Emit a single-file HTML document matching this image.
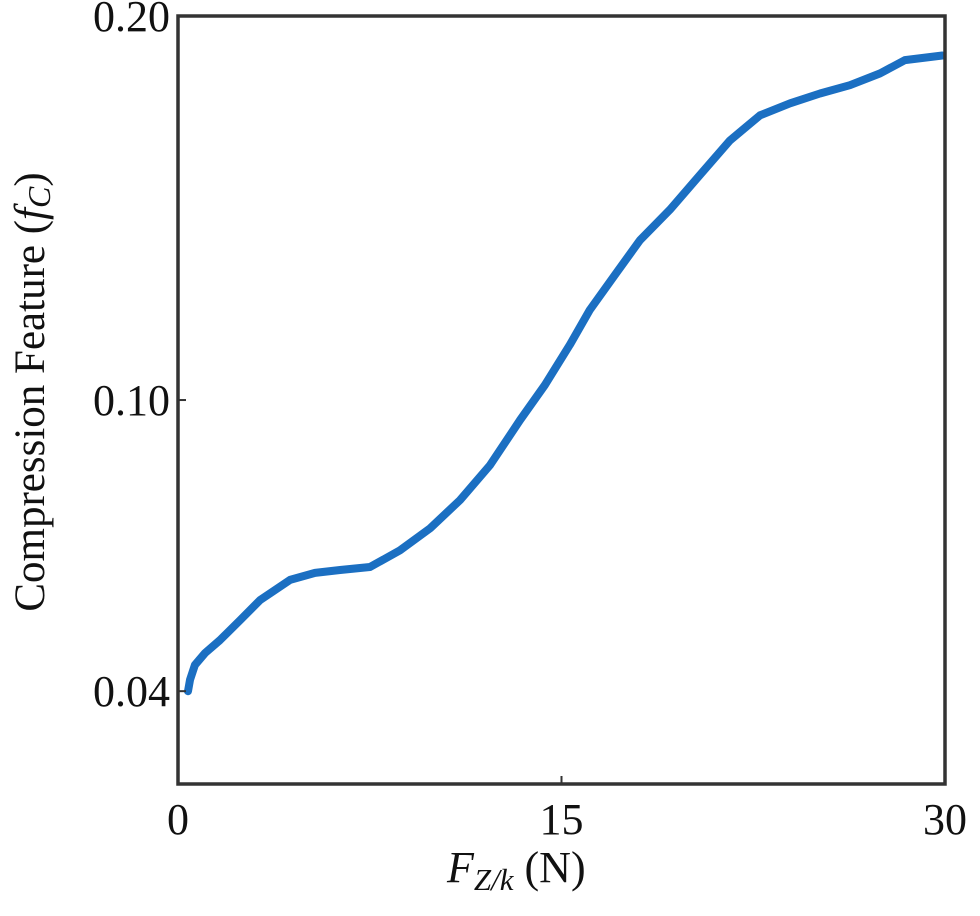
<!DOCTYPE html>
<html><head><meta charset="utf-8"><style>
body{margin:0;background:#fff;}
svg text{font-family:"Liberation Serif",serif;fill:#111;}
</style></head><body>
<svg id="chart" width="980" height="911" viewBox="0 0 980 911" xmlns="http://www.w3.org/2000/svg">
<g id="plot"></g>
<rect x="178" y="16" width="767" height="768" fill="none" stroke="#333" stroke-width="3.5"/>
<text transform="translate(44,392) rotate(-90)" text-anchor="middle" font-size="43">Compression Feature (<tspan font-style="italic">f</tspan><tspan font-style="italic" font-size="32" dy="6">C</tspan><tspan dy="-6">)</tspan></text>
<text x="447" y="882" font-size="44" font-style="italic">F<tspan font-size="31" dy="8">Z/k</tspan><tspan font-style="normal" dy="-8"> (N)</tspan></text>
</svg>
<script>
const xValues=[0.39,0.47,0.66,1.06,1.64,2.43,3.21,4.38,5.36,6.34,7.51,8.68,9.86,11.03,12.2,13.38,14.35,15.33,16.11,17.09,18.07,19.24,20.41,21.59,22.76,23.94,25.11,26.28,27.46,28.43,29.9];
const yValues=[0.0400,0.0420,0.0447,0.0469,0.0493,0.0531,0.0570,0.0610,0.0624,0.0630,0.0636,0.0670,0.0716,0.0776,0.0852,0.0954,0.1035,0.1131,0.1216,0.1303,0.1391,0.1470,0.1561,0.1654,0.1722,0.1755,0.1782,0.1805,0.1838,0.1875,0.1888];
const xTicks=[0,15,30];
const xTickLabels=["0","15","30"];
const yTicks=[0.04,0.10,0.20];
const yTickLabels=["0.04","0.10","0.20"];
const NS="http://www.w3.org/2000/svg";
const L=178,R=945,T=16,B=784;
function xs(v){return L+(v/30)*(R-L);}
function ys(v){return T+(Math.pow(0.2,0.7)-Math.pow(v,0.7))*3082;}
const g=document.getElementById('plot');
let d='';
xValues.forEach((x,i)=>{d+=(i?'L':'M')+xs(x).toFixed(1)+','+ys(yValues[i]).toFixed(1);});
const p=document.createElementNS(NS,'path');


p.setAttribute('d',d);p.setAttribute('fill','none');p.setAttribute('stroke','#1b6fc2');
p.setAttribute('stroke-width','8');p.setAttribute('stroke-linejoin','round');p.setAttribute('stroke-linecap','round');
g.appendChild(p);
xTicks.forEach((t,i)=>{
 const l=document.createElementNS(NS,'line');
 
 
 l.setAttribute('x1',xs(t));l.setAttribute('x2',xs(t));l.setAttribute('y1',B);l.setAttribute('y2',B-8);l.setAttribute('stroke','#333');l.setAttribute('stroke-width','2');
 g.appendChild(l);
 const tx=document.createElementNS(NS,'text');
 
 
 tx.setAttribute('x',xs(t));tx.setAttribute('y',834);tx.setAttribute('text-anchor','middle');tx.setAttribute('font-size','44');
 tx.textContent=xTickLabels[i];g.appendChild(tx);
});
yTicks.forEach((t,i)=>{
 const l=document.createElementNS(NS,'line');
 
 
 l.setAttribute('x1',L);l.setAttribute('x2',L+8);l.setAttribute('y1',ys(t));l.setAttribute('y2',ys(t));l.setAttribute('stroke','#333');l.setAttribute('stroke-width','2');
 g.appendChild(l);
 const tx=document.createElementNS(NS,'text');
 
 
 tx.setAttribute('x',170);tx.setAttribute('y',ys(t)+15);tx.setAttribute('text-anchor','end');tx.setAttribute('font-size','44');
 tx.textContent=yTickLabels[i];g.appendChild(tx);
});
</script>
</body></html>
